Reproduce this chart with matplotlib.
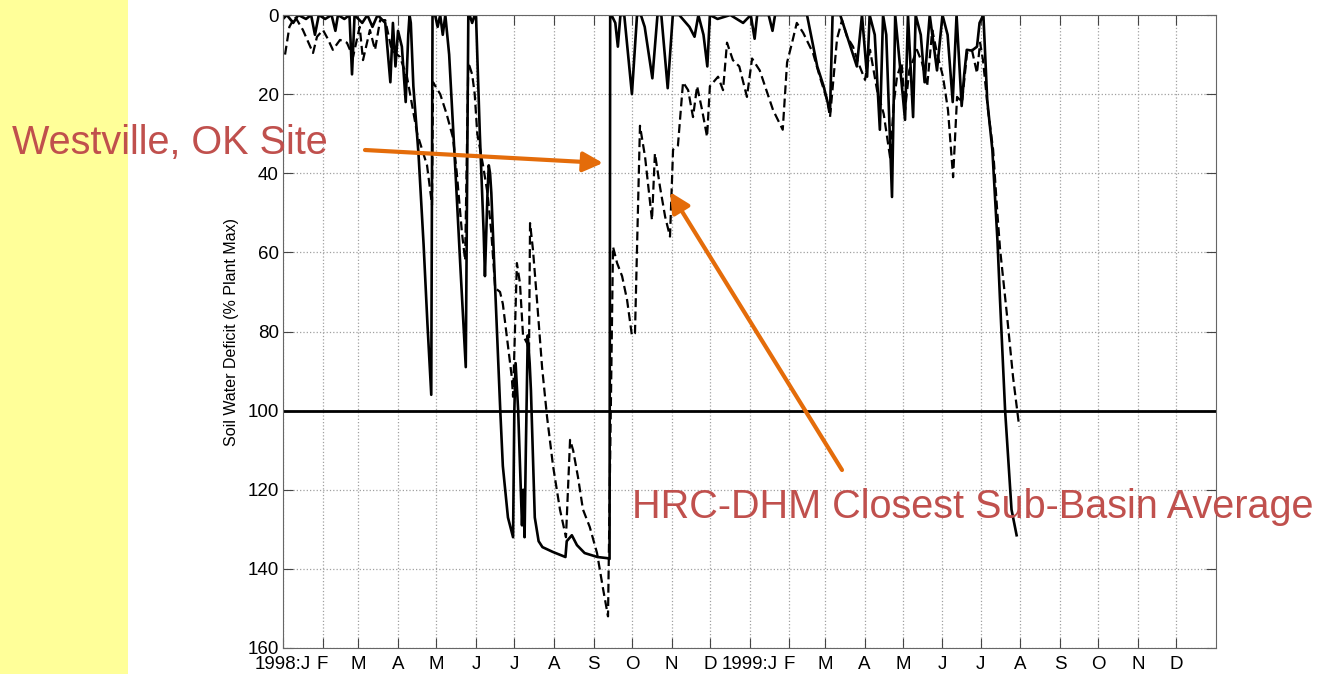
import pandas as pd
import matplotlib.pyplot as plt
from matplotlib.patches import Rectangle, FancyArrowPatch

plt.rcParams['font.family'] = ['Liberation Sans', 'DejaVu Sans']

# Westville, OK site (solid) - days since 1998-01-01, deficit in % plant max
site_day = [0, 3, 8, 12, 18, 22, 25, 28, 33, 38, 41, 43, 48, 52, 54, 56, 62, 66, 70, 74,
            80, 84, 86, 88, 90, 93, 96, 98, 99, 100, 102, 106, 110, 113, 116, 117, 119, 121,
            123, 125, 127, 130, 135, 139, 143, 145, 146, 148, 150, 151, 154, 157, 158, 160,
            161, 162, 163, 166, 170, 172, 176, 180, 181, 182, 184, 187, 188, 189, 190, 191.5,
            193, 194, 197, 200, 203, 211, 221, 222, 226, 230, 236, 246, 254, 255.5, 256, 257,
            260, 262, 264, 267, 273, 277, 280, 283, 289, 293, 296, 301, 305, 310, 318, 322,
            325, 329, 332, 334, 340, 350, 360, 366, 369, 371, 380, 383, 385, 400, 410, 418,
            423, 428, 430, 432, 436, 449, 453, 457, 459, 463, 467, 469.5, 472, 476.5, 479,
            486.7, 489, 493, 495, 499, 502, 506, 511.7, 516, 520, 524, 527, 531, 533, 535,
            539, 543, 545, 548, 551, 555, 559, 561, 565, 570, 574]
site_deficit = [1, 0, 2, 0, 1, 0, 5, 0, 1, 0, 4, 0, 1, 0, 15, 0, 2, 0, 3, 0,
                2, 17, 2, 13, 4, 8, 22, 5, 0, 2, 18, 35, 58, 78, 96, 0, 0, 3,
                0, 5, 0, 10, 40, 65, 89, 0, 0, 2, 0, 0, 30, 55, 66, 45,
                38, 40, 45, 69, 100, 114, 127, 132, 100, 88, 100, 129, 120, 132, 110, 81,
                88, 95, 127, 133, 134.5, 135.7, 137, 133, 131.5, 134, 136, 137, 137.3, 137.5, 0, 0,
                2, 8, 0, 0, 20, 0, 0, 3, 16, 0, 0, 18.5, 0, 0, 3, 5.5,
                0, 5, 13, 0, 1, 0, 2, 0, 6, 0, 0, 4, 0, 0, 0, 13,
                18, 24.5, 0, 0, 0, 13, 0, 15.6, 0, 5, 29, 0, 5, 46, 0,
                26.5, 0, 25.8, 0, 5, 17, 0, 14, 0, 5, 22, 0, 23, 15, 8.8,
                9, 8, 2, 0, 21.5, 34, 57, 72, 100, 125, 131.5]

# HRC-DHM closest sub-basin average (dashed)
model_day = [1.6, 5, 9.4, 15.6, 20, 23.5, 26.6, 31.3, 35, 39, 44.6, 50, 54.8, 60, 62.6, 68,
             72, 76, 80, 85, 91.5, 97, 105, 112.7, 116.6, 117.4, 123, 128, 133, 136, 140,
             142.5, 145, 148, 150, 152, 156.5, 160, 163, 166, 169.8, 172, 175, 179, 180, 183,
             185.4, 187.8, 191, 192.5, 193.3, 195.6, 198.7, 202.7, 206.6, 211.3, 216.7, 221.4,
             224.6, 227, 230.8, 234.7, 240, 245.7, 250.4, 254.3, 258.2, 261.4, 265.3, 269.2,
             273, 275.4, 279.3, 283.3, 288.7, 291, 295, 299, 302.8, 305.2, 309, 313, 317,
             320.8, 324, 327.9, 331.8, 334, 340.4, 344.3, 347.4, 352, 357, 363, 367, 373,
             383.4, 391, 394.4, 398.3, 402, 407, 414.7, 420, 425.7, 428, 433.5, 437.4, 441.3,
             446, 450, 455.4, 459.3, 464.8, 470, 475, 478, 480.4, 484, 486.7, 490, 496, 500,
             504, 508, 511.7, 516.4, 520.3, 524.3, 527.4, 531.3, 535.2, 539, 543, 545.4,
             547.7, 551.6, 555.6, 558.7, 561, 566.5, 571.2, 576]
model_deficit = [10, 3, 0.4, 3.8, 7, 9.6, 5.5, 3.8, 6, 8.8, 6.3, 7, 10.6, 3, 11.4, 3.8,
                 8.8, 1.3, 1.3, 8.8, 10.6, 15.6, 30, 38, 48, 17, 20, 25, 31, 40, 55,
                 62, 12, 15, 20, 30, 38, 45, 55, 69, 70, 73, 81, 91.5, 96.5, 62.7,
                 67.8, 81, 83, 85, 52.6, 59.4, 72, 89, 101.6, 114, 125, 132,
                 107.4, 110, 116.8, 125, 129.4, 136, 145, 152, 58.6, 62.7, 66, 72,
                 81, 80.4, 28, 35.9, 51.8, 35, 43.5, 51, 56, 34, 33, 17, 19,
                 25.8, 18, 24, 30.8, 18, 15.6, 19, 7, 11.4, 13, 20.7, 11, 14,
                 24, 29, 12, 7, 2, 4.5, 9.6, 15.6, 21.5, 25.8, 6, 1.3, 5.5,
                 8, 12, 16.4, 8.8, 19, 25, 36, 22, 15.6, 12, 24, 14, 8.8, 12,
                 18, 3.8, 9.6, 15.6, 24, 41, 20.7, 22, 9.6, 8.8, 14.7, 7,
                 11.4, 24, 34, 49, 59, 76, 91.5, 104]

# month tick labels
month_letters = ['J', 'F', 'M', 'A', 'M', 'J', 'J', 'A', 'S', 'O', 'N', 'D']
months = pd.date_range('1998-01-01', '1999-12-01', freq='MS')
tick_days = (months - pd.Timestamp('1998-01-01')).days
tick_labels = []
for m in months:
    lab = month_letters[m.month - 1]
    if m.month == 1:
        lab = f"{m.year}:{lab}"
    tick_labels.append(lab)

fig = plt.figure(figsize=(13.21, 6.74), dpi=100)
fig.patches.append(Rectangle((0, 0), 128 / 1321, 1, transform=fig.transFigure,
                             facecolor='#FFFF99', edgecolor='none', zorder=0))

ax = fig.add_axes([283 / 1321, 1 - 648 / 674, 933 / 1321, 633 / 674])
ax.plot(site_day, site_deficit, color='black', lw=1.9)
ax.plot(model_day, model_deficit, color='black', lw=1.6, linestyle=(0, (4, 2)))
ax.axhline(100, color='black', lw=2)

ax.set_xlim(0, 730)
ax.set_ylim(160, 0)
ax.set_yticks(range(0, 161, 20))
ax.set_xticks(tick_days)
ax.set_xticklabels(tick_labels)
ax.tick_params(direction='in', top=True, right=True, labelsize=13.5, length=7,
               color='#444444')
ax.tick_params(axis='x', pad=6)
ax.tick_params(axis='y', pad=3)
ax.grid(True, linestyle=':', color='#a0a0a0', lw=0.9)
for s in ax.spines.values():
    s.set_color('#666666')
ax.set_ylabel('Soil Water Deficit (% Plant Max)', fontsize=11.5, labelpad=6)

red = '#C0504D'
orange = '#E46C0A'
fig.text(12 / 1321, 1 - 143 / 674, 'Westville, OK Site', color=red, fontsize=28.5,
         va='center', ha='left')
fig.text(632 / 1321, 1 - 507 / 674, 'HRC-DHM Closest Sub-Basin Average', color=red,
         fontsize=28.5, va='center', ha='left')

for (x0, y0), (x1, y1) in [((365, 150), (603, 163)), ((842, 470), (670, 192))]:
    arr = FancyArrowPatch((x0 / 1321, 1 - y0 / 674), (x1 / 1321, 1 - y1 / 674),
                          transform=fig.transFigure, arrowstyle='-|>,head_length=12,head_width=6',
                          color=orange, lw=3, shrinkA=0, shrinkB=0)
    fig.patches.append(arr)

plt.savefig('out.png', dpi=100)
plt.close()
